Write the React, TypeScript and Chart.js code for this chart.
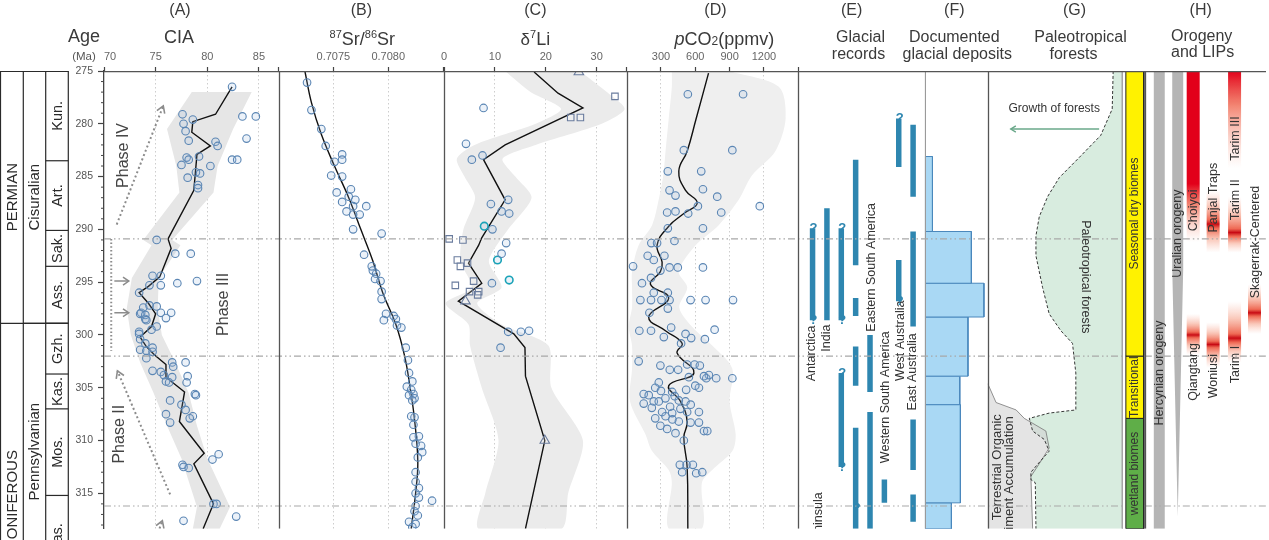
import React, { useEffect, useRef } from "react";
import { Chart, registerables } from "chart.js";

Chart.register(...registerables);

const FONT = "'Liberation Sans', Arial, Helvetica, sans-serif";

/* ---------------- age axis & stratigraphy ---------------- */
const AGE_TOP = 275;
const AGE_BOTTOM = 318.35;
const FIG_BOTTOM = 335.3;
const EVENT_LINES = [290.9, 302.0, 316.2];

const PERIODS: [string, number, number][] = [["PERMIAN", 272.95, 298.9], ["CARBONIFEROUS", 298.9, 358.9]];
const EPOCHS: [string, number, number][] = [["Cisuralian", 272.95, 298.9], ["Pennsylvanian", 298.9, 323.2]];
const STAGES: [string, number, number][] = [
  ["Kun.", 272.95, 283.5], ["Art.", 283.5, 290.1], ["Sak.", 290.1, 293.5], ["Ass.", 293.5, 298.9],
  ["Gzh.", 298.9, 303.7], ["Kas.", 303.7, 307.0], ["Mos.", 307.0, 315.2], ["Bas.", 315.2, 323.2],
];

/* ---------------- (A) CIA : [age, value] ---------------- */
const CIA_POINTS = [
  [276.5, 82.4], [279.1, 77.6], [279.6, 78.6], [279.3, 83.4], [279.3, 84.7], [280.0, 77.7], [280.7, 77.9],
  [281.6, 78.2], [281.4, 83.8], [281.7, 80.8], [282.1, 81.0], [283.2, 78.0], [283.1, 79.2], [283.4, 78.2],
  [283.9, 77.5], [284.0, 80.3], [283.4, 82.4], [283.4, 82.9], [284.6, 78.9], [284.7, 79.3], [285.1, 78.1],
  [285.8, 79.1], [286.1, 79.1], [291.0, 75.1], [292.3, 76.9], [292.3, 78.4], [294.4, 74.7], [294.4, 75.5],
  [295.1, 77.1], [294.9, 79.0], [295.3, 74.4], [295.3, 75.5], [296.0, 73.4], [297.2, 74.4], [297.3, 75.1],
  [297.9, 73.6], [297.9, 75.5], [297.9, 76.5], [298.4, 76.0], [298.5, 74.0], [299.2, 75.1], [299.7, 73.4],
  [297.4, 73.8], [298.0, 73.5], [298.1, 74.0], [298.6, 74.1], [299.5, 74.6], [299.9, 73.4], [300.4, 73.5],
  [300.8, 74.0], [301.2, 74.7], [301.4, 73.5], [301.5, 74.1], [301.6, 74.7], [302.2, 74.1], [302.6, 76.6],
  [302.6, 77.9], [303.0, 76.7], [303.4, 74.7], [303.5, 75.5], [303.8, 75.8], [304.0, 76.6], [303.9, 78.1],
  [304.4, 76.0], [304.5, 76.3], [304.5, 78.0], [305.6, 78.8], [305.7, 78.9], [306.2, 76.4], [306.6, 77.5],
  [307.1, 77.9], [307.5, 76.0], [307.7, 78.6], [307.9, 78.3], [308.3, 76.4], [311.3, 81.1], [311.8, 80.5],
  [312.3, 77.6], [312.5, 77.7], [312.6, 78.2], [316.0, 80.6], [316.0, 80.9], [317.2, 82.8], [317.6, 77.7],
];
const CIA_MEAN = [
  [276.5, 82.4], [279.1, 80.8], [279.8, 78.6], [280.8, 78.5], [282.1, 80.3], [282.9, 79.0], [286.3, 78.7],
  [290.9, 76.2], [291.8, 76.5], [294.5, 75.4], [295.4, 74.3], [296.0, 73.4], [297.0, 74.3], [298.0, 75.0],
  [299.2, 74.6], [300.2, 73.5], [301.1, 74.1], [301.9, 74.9], [302.8, 76.0], [304.0, 76.0], [305.4, 77.8],
  [308.2, 77.3], [311.2, 79.7], [312.2, 78.7], [316.0, 80.6], [318.35, 79.6],
];
const CIA_ENVELOPE = [ // [age, low, high]
  [277.0, 78.5, 84.3], [280.5, 76.1, 82.5], [284.0, 77.0, 81.0], [286.5, 77.3, 80.6], [291.0, 73.8, 76.6],
  [291.5, 74.6, 77.4], [294.6, 72.7, 75.3], [297.5, 72.2, 75.2], [300.0, 72.6, 75.6], [302.6, 73.5, 76.9],
  [305.5, 74.8, 78.2], [308.6, 76.1, 79.0], [311.7, 77.5, 80.0], [316.3, 79.0, 82.2], [318.35, 78.6, 81.2],
];
const CIA_TREND_ARROWS = [[71.23, 289.54, 75.74, 278.3], [76.4, 315.1, 71.3, 303.4], [74.3, 321.2, 75.65, 317.6]];
const CIA_SHORT_ARROWS = [294.9, 297.9];
const CIA_BRACKET = [70.7, 290.9, 301.5];
const PHASE_LABELS: [string, number, number][] = [["Phase IV", 71.85, 283.0], ["Phase III", 81.6, 297.1], ["Phase II", 71.5, 309.4]];

/* ---------------- (B) 87Sr/86Sr ---------------- */
const SR_POINTS = [
  [276.1, 0.70726], [278.7, 0.7073], [280.5, 0.70739], [282.1, 0.70743], [282.9, 0.70758], [283.4, 0.70758],
  [283.6, 0.70751], [284.9, 0.70748], [285.0, 0.70758], [286.2, 0.70766], [286.5, 0.70753], [286.9, 0.70764],
  [287.2, 0.7077], [287.4, 0.70758], [287.8, 0.7078], [287.8, 0.70768], [288.3, 0.70762], [288.6, 0.70774],
  [288.6, 0.70768], [290.0, 0.70768], [290.4, 0.70794], [292.4, 0.70778], [293.5, 0.70785], [293.9, 0.70786],
  [294.2, 0.70789], [294.7, 0.70788], [294.9, 0.70793], [295.9, 0.70794], [296.6, 0.70794], [298.0, 0.70798],
  [298.2, 0.70805], [298.5, 0.70807], [298.6, 0.70796], [299.1, 0.70808], [299.3, 0.70812], [301.2, 0.70816],
  [302.4, 0.70818], [303.6, 0.70819], [304.4, 0.70822], [304.9, 0.70817], [305.2, 0.70821], [305.6, 0.70823],
  [305.7, 0.70819], [306.0, 0.70824], [306.2, 0.70822], [307.7, 0.70821], [307.8, 0.70824], [308.5, 0.70823],
  [309.6, 0.70828], [309.7, 0.70823], [310.3, 0.70825], [310.5, 0.7083], [311.1, 0.70831], [311.6, 0.70827],
  [313.0, 0.70825], [313.9, 0.70825], [314.5, 0.70828], [315.0, 0.70825], [315.4, 0.70828], [315.7, 0.7084],
  [316.2, 0.70825], [316.7, 0.70824], [317.1, 0.70827], [317.7, 0.70819], [317.9, 0.70825], [318.2, 0.70822],
];
const SR_MEAN = [
  [275, 0.70724], [278, 0.7073], [281, 0.70739], [284, 0.70751], [287, 0.70764], [290, 0.70775], [293, 0.70786],
  [296, 0.70795], [299, 0.70807], [302, 0.70815], [305, 0.7082], [308, 0.70824], [312, 0.70827], [315, 0.70825],
  [318.35, 0.70821],
];
const SR_TICK_LABELS = [0.7075, 0.708];

/* ---------------- (C) δ7Li ---------------- */
const LI_CIRCLES = [
  [278.5, 7.75], [281.9, 4.3], [283.4, 5.45], [283.0, 7.55], [287.2, 12.6], [287.6, 9.2], [288.3, 11.3],
  [288.5, 12.8], [290.0, 9.5], [291.3, 12.2], [292.3, 11.3], [295.1, 9.4], [299.7, 12.6], [299.7, 15.1],
  [299.6, 16.7], [301.2, 11.1],
];
const LI_TEAL = [[289.7, 7.9], [292.9, 10.5], [294.8, 12.8]];
const LI_SQUARES = [
  [277.4, 33.6], [279.4, 24.9], [279.4, 26.8], [290.9, 1.0], [291.0, 3.7], [292.9, 2.6], [293.5, 3.2],
  [293.2, 4.6], [295.3, 2.2], [294.9, 5.8], [295.9, 5.0], [295.9, 6.8], [296.2, 6.6],
];
const LI_TRIANGLES = [[275.1, 26.5], [296.8, 4.2], [310.0, 19.8]];
const LI_MEAN = [
  [275.1, 17.7], [277.1, 22.4], [278.5, 27.3], [282.0, 12.0], [283.4, 7.75], [287.2, 12.0], [290.8, 7.4],
  [291.5, 6.8], [293.2, 4.8], [295.1, 7.4], [296.8, 2.8], [299.9, 13.7], [301.2, 15.9], [303.9, 16.0],
  [310.0, 19.8], [318.35, 16.0],
];
const LI_ENVELOPE = [
  [275, 12, 26.7], [277, 17, 32], [278.6, 23, 35.5], [280, 18, 31], [282, 6, 18], [283.3, 2.5, 11.5],
  [285, 4, 14], [287, 6.1, 17.2], [290, 3.8, 12.6], [293, 3.2, 8.8], [295.5, 5.4, 11.3], [297, 0.3, 6.5],
  [299, 4.8, 11.3], [301, 5.1, 20.5], [305, 7.4, 21.1], [310, 10.7, 27.3], [315, 8.1, 24.4], [318.35, 6.8, 23.1],
];

/* ---------------- (D) pCO2 ---------------- */
const CO2_POINTS = [
  [277.2, 535], [277.2, 1018], [282.5, 500], [282.5, 924], [284.5, 360], [284.5, 652], [286.3, 375], [286.8, 427],
  [286.2, 667], [286.9, 792], [287.8, 623], [287.8, 1164], [288.4, 354], [288.3, 427], [288.5, 538], [288.4, 827],
  [289.9, 360], [289.9, 667], [291.1, 418], [291.3, 216], [291.3, 266], [292.5, 184], [292.5, 330], [292.9, 237],
  [293.5, 56], [293.9, 295], [293.6, 375], [293.6, 447], [293.6, 667], [294.6, 213], [295.1, 134], [296.0, 237],
  [296.0, 360], [296.7, 120], [296.7, 213], [296.7, 304], [296.7, 375], [296.7, 559], [296.7, 690], [296.7, 930],
  [297.5, 360], [297.9, 199], [299.6, 111], [299.6, 213], [300.2, 325], [299.3, 389], [299.9, 515], [300.3, 564],
  [300.4, 684], [299.5, 769], [300.8, 476], [302.5, 105], [302.9, 295], [303.3, 377], [302.8, 529], [302.8, 594],
  [303.8, 719], [304.1, 783], [304.1, 924], [304.1, 696], [304.0, 544], [303.9, 676], [304.5, 281], [305.6, 149],
  [305.7, 193], [306.3, 237], [306.5, 149], [306.3, 281], [306.0, 339], [305.4, 398], [306.2, 456], [306.3, 515],
  [305.0, 632], [307.3, 310], [307.4, 398], [307.3, 529], [307.3, 632], [308.6, 295], [308.9, 354], [308.2, 456],
  [308.3, 559], [308.3, 632], [309.1, 676], [309.1, 705], [309.3, 427], [310.0, 500], [312.3, 465], [312.3, 524],
  [312.3, 579], [313.0, 485], [313.1, 608], [313.0, 661], [305.0, 250], [305.3, 300], [305.8, 420], [306.8, 380],
  [307.0, 470], [306.6, 560], [307.9, 250], [308.0, 400], [305.2, 520], [304.8, 600], [306.9, 220], [307.7, 340],
  [303.3, 450], [302.9, 640],
];
const CO2_MEAN = [
  [275.2, 716], [279.5, 608], [282.6, 529], [284.5, 456], [286.3, 515], [287.5, 617], [288.5, 500], [289.7, 368],
  [291.5, 266], [293.1, 310], [294.0, 295], [295.2, 208], [296.5, 368], [298.3, 193], [299.6, 339], [300.8, 485],
  [301.7, 441], [303.6, 588], [304.8, 368], [306.3, 471], [308.2, 529], [309.7, 500], [312.5, 529], [318.35, 535],
];
const CO2_ENVELOPE = [
  [275, 395, 895], [276.5, 395, 1330], [279.5, 368, 1390], [282.6, 340, 1300], [284.9, 320, 1095],
  [287.2, 280, 980], [289.6, 222, 805], [291.5, 105, 603], [294.0, 47, 455], [295.5, 47, 530], [297.4, 47, 460],
  [299.2, 18, 570], [301.0, 47, 748], [303.2, 47, 924], [306.3, 30, 900], [309.4, 164, 953], [311.0, 222, 924],
  [312.8, 368, 748], [314.0, 395, 658], [318.35, 368, 658],
];

/* ---------------- (E) glacial records : [column, start, end] ---------------- */
const GLACIAL_RECORDS = [
  [1, 289.9, 298.6], [2, 288.0, 298.6], [3, 289.9, 298.6], [4, 283.4, 293.4], [4, 296.5, 298.2], [4, 301.1, 304.8],
  [3, 303.6, 312.5], [5, 300.0, 305.4], [5, 307.3, 320], [4, 308.8, 320], [6, 313.7, 315.9], [7, 279.5, 284.1],
  [8, 280.1, 286.9], [7, 292.9, 296.8], [8, 290.2, 299.2], [8, 308.0, 312.8], [8, 315.1, 317.7],
];
const GLACIAL_QUERIES = [[1, 289.9], [1, 298.6], [3, 289.9], [3, 298.6], [3, 303.6], [3, 312.5], [7, 279.5], [7, 296.8], [4, 316.4]];
const GLACIAL_LABELS: [string, number, number, string?][] = [
  ["Antarctica", 0.9, 301.75], ["India", 2.0, 300.3], ["Eastern South America", 5.14, 293.6],
  ["Western South America", 6.1, 305.9], ["West Australia", 7.15, 300.55], ["East Australia", 7.99, 303.5],
  ["Antarctic Peninsula", 1.39, 314.9, "end"],
];

/* ---------------- (F) documented glacial deposits : [start, end, count] ---------------- */
const DEPOSIT_BINS = [
  [283.1, 290.2, 1.9], [290.2, 295.1, 11.65], [295.1, 298.3, 14.8], [298.3, 303.9, 10.8],
  [303.9, 306.6, 8.75], [306.6, 315.9, 8.9], [315.9, 320, 6.65],
];

/* ---------------- (G) paleotropical forests : [age, extent] ---------------- */
const FOREST_EDGE = [
  [275.0, 20.4], [278.6, 21.0], [281.1, 28.3], [283.2, 42], [285.1, 54.6], [286.9, 62], [288.8, 67.3],
  [290.6, 69.4], [292.5, 69.4], [295.5, 65.2], [298.0, 61], [299.6, 53.6], [300.8, 46.2], [303.6, 44.1],
  [307.1, 44.1], [307.4, 61], [307.9, 73.6], [309.1, 71.5], [309.9, 64.1], [311.0, 61], [311.9, 66.3],
  [313.0, 72.6], [313.7, 72.6], [314.0, 69.8], [318.35, 69.4],
];
const SEDIMENT_EDGE = [
  [304.6, 100], [306.4, 94.7], [307.1, 82], [307.9, 76.8], [309.1, 63.1], [310.7, 61], [312.2, 67.3],
  [313.4, 72.6], [318.35, 71.5],
];
const BIOMES: [string, number, number, string][] = [
  ["Seasonal dry biomes", 275, 302.0, "#fff200"], ["Transitional", 302.0, 307.9, "#fff200"], ["wetland biomes", 307.9, 320, "#5fae48"],
];
const GROWTH_ARROW = [29.3, 85.4, 280.5];

/* ---------------- (H) orogeny and LIPs ---------------- */
const OROGENIES: [string, number, number, number | null, number, number][] = [
  ["Hercynian orogeny", 1, 275, null, 320, 303.6], ["Uralian orogeny", 2, 275, 293.7, 317.2, 290.4],
];
const LIPS: [string, number, number, number, number, string, number][] = [
  ["Choiyoi", 3, 275, 285.7, 291.2, "top", 288.2], ["Tarim III", 5, 275, 275, 284.2, "top", 281.4],
  ["Panjal Traps", 4, 286.3, 289.5, 292.2, "blob", 287.0], ["Tarim II", 5, 286.9, 290.3, 292.2, "blob", 287.2],
  ["Skagerrak-Centered", 6, 295.2, 297.9, 299.9, "blob", 291.2], ["Tarim I", 5, 296.8, 300.3, 302.6, "blob", 302.8],
  ["Qiangtang", 3, 298.0, 300.0, 301.9, "blob", 303.5], ["Woniusi", 4, 298.8, 300.9, 303.1, "blob", 303.9],
];

/* ---------------- layout constants (not data) ---------------- */
const LANE_X = [14, 32.5, 48, 68, 89.5, 109.5];
const LANE_HALF = 5.5;
const BIOME_COL = [12.34, 0.95];
const FOREST_RIGHT = 14.6;
const STRAT_X = [0.5, 23.3, 45.7, 68.3];

/* ---------------- helpers ---------------- */
const pts = (rows: number[][]) => rows.map((r) => ({ x: r[1], y: r[0] }));
const bandPts = (rows: number[][]) => [
  ...rows.map((r) => ({ x: r[1], y: r[0] })),
  ...rows.slice().reverse().map((r) => ({ x: r[2], y: r[0] })),
];
const rect = (x0: number, x1: number, a0: number, a1: number, close = true) => {
  const p = [{ x: x0, y: a0 }, { x: x1, y: a0 }, { x: x1, y: a1 }, { x: x0, y: a1 }];
  if (close) p.push({ x: x0, y: a0 });
  return p;
};
function ds(xAxisID: string, data: any[], o: any = {}) {
  return {
    type: "line", xAxisID, yAxisID: "y", indexAxis: "y", data, clip: 0, pointRadius: 0, pointHoverRadius: 0,
    borderWidth: 0, fill: false, tension: 0, ...o,
  };
}
const scatter = (id: string, rows: number[][], o: any = {}) =>
  ds(id, pts(rows), {
    showLine: false, pointRadius: 3.8, pointStyle: "circle", pointBorderColor: "#5b86b4",
    pointBackgroundColor: "rgba(150,185,220,0.18)", pointBorderWidth: 1.1, order: 1, ...o,
  });
const meanLine = (id: string, rows: number[][], tension = 0) =>
  ds(id, pts(rows), { borderColor: "#111", borderWidth: 1.4, tension, order: 5 });
const shape = (id: string, data: any[], color: string, o: any = {}) =>
  ds(id, data, { fill: "shape", backgroundColor: color, order: 20, ...o });

function lipGradient(lip: any[]) {
  return (c: any) => {
    const ch = c.chart;
    const ys = ch.scales && ch.scales.y;
    if (!ch.chartArea || !ys) return "rgba(230,60,40,0.6)";
    const start = lip[2], peak = lip[3], end = lip[4], kind = lip[5];
    const g = ch.ctx.createLinearGradient(0, ys.getPixelForValue(start), 0, ys.getPixelForValue(end));
    const f = (peak - start) / (end - start);
    if (kind === "top") {
      g.addColorStop(0, "rgb(226,0,26)");
      g.addColorStop(f, "rgb(226,0,26)");
      g.addColorStop(f + (1 - f) * 0.35, "rgba(238,90,65,0.75)");
      g.addColorStop(1, "rgba(250,170,150,0)");
    } else {
      g.addColorStop(0, "rgba(250,170,150,0)");
      g.addColorStop(f * 0.45, "rgba(244,140,110,0.45)");
      g.addColorStop(Math.max(0, f - 0.07), "rgba(236,80,55,0.85)");
      g.addColorStop(f, "rgb(200,10,20)");
      g.addColorStop(Math.min(1, f + 0.07), "rgba(236,80,55,0.85)");
      g.addColorStop(f + (1 - f) * 0.55, "rgba(244,140,110,0.45)");
      g.addColorStop(1, "rgba(250,170,150,0)");
    }
    return g;
  };
}

function seg(ctx: any, x0: number, y0: number, x1: number, y1: number) {
  ctx.beginPath(); ctx.moveTo(x0, y0); ctx.lineTo(x1, y1); ctx.stroke();
}
function txt(ctx: any, t: string, x: number, y: number, size: number, color: string, rot = 0, align = "center", weight = "normal") {
  ctx.save();
  ctx.translate(x, y);
  if (rot) ctx.rotate((rot * Math.PI) / 180);
  ctx.font = `${weight} ${size}px ${FONT}`;
  ctx.fillStyle = color;
  ctx.textAlign = align;
  ctx.textBaseline = "middle";
  ctx.fillText(t, 0, 0);
  ctx.restore();
}
function rich(ctx: any, runs: any[], cx: number, base: number, color: string) {
  const fnt = (r: any) => `${r[3] ? "italic " : ""}${r[1]}px ${FONT}`;
  let w = 0;
  for (const r of runs) { ctx.font = fnt(r); w += ctx.measureText(r[0]).width; }
  let x = cx - w / 2;
  ctx.save();
  ctx.fillStyle = color; ctx.textAlign = "left"; ctx.textBaseline = "alphabetic";
  for (const r of runs) { ctx.font = fnt(r); ctx.fillText(r[0], x, base + r[2]); x += ctx.measureText(r[0]).width; }
  ctx.restore();
}
function head(ctx: any, x0: number, y0: number, x1: number, y1: number, len = 8, ang = 0.5) {
  const a = Math.atan2(y1 - y0, x1 - x0);
  ctx.beginPath();
  ctx.moveTo(x1 - len * Math.cos(a - ang), y1 - len * Math.sin(a - ang));
  ctx.lineTo(x1, y1);
  ctx.lineTo(x1 - len * Math.cos(a + ang), y1 - len * Math.sin(a + ang));
  ctx.stroke();
}

/* ---------------- custom drawing plugin ---------------- */
const decor = {
  id: "decor",
  afterDatasetsDraw(chart: any) {
    const { ctx, chartArea: ca, scales: s } = chart;
    const Y = (a: number) => s.y.getPixelForValue(a);
    const X = (id: string, v: number) => s[id].getPixelForValue(v);
    ctx.save();
    ctx.beginPath(); ctx.rect(ca.left, ca.top, ca.right - ca.left, ca.bottom - ca.top); ctx.clip();

    // event (dash-dot-dot) lines
    const bl = X("xG", BIOME_COL[0]), br = X("xG", BIOME_COL[1]);
    ctx.strokeStyle = "#a8a8a8"; ctx.lineWidth = 1.2; ctx.setLineDash([7, 3, 1.5, 3, 1.5, 3]);
    for (const a of EVENT_LINES) { const y = Y(a); seg(ctx, ca.left, y, bl - 1, y); seg(ctx, br + 1, y, ca.right, y); }
    ctx.setLineDash([]);

    // panel borders & top frame
    ctx.strokeStyle = "#555"; ctx.lineWidth = 1.3;
    for (const id of ["xB", "xC", "xD", "xE", "xG", "xH"]) { const x = Math.round(s[id].left) + 0.5; seg(ctx, x, ca.top, x, ca.bottom); }
    seg(ctx, ca.left, ca.top + 0.5, ca.right, ca.top + 0.5);

    // (A) annotations
    ctx.strokeStyle = "#8c8c8c"; ctx.lineWidth = 2;
    for (const [c0, a0, c1, a1] of CIA_TREND_ARROWS) {
      const x0 = X("xA", c0), y0 = Y(a0), x1 = X("xA", c1), y1 = Y(a1);
      ctx.setLineDash([2, 2.6]); seg(ctx, x0, y0, x1, y1); ctx.setLineDash([]);
      ctx.lineWidth = 1.6; head(ctx, x0, y0, x1, y1, 8, 0.55); ctx.lineWidth = 2;
    }
    ctx.lineWidth = 1.5;
    for (const a of CIA_SHORT_ARROWS) {
      const y = Y(a), x0 = X("xA", 71.0), x1 = X("xA", 72.4);
      seg(ctx, x0, y, x1, y); head(ctx, x0, y, x1, y, 7, 0.6);
    }
    ctx.lineWidth = 2; ctx.setLineDash([1.5, 2.2]);
    seg(ctx, X("xA", CIA_BRACKET[0]), Y(CIA_BRACKET[1]), X("xA", CIA_BRACKET[0]), Y(CIA_BRACKET[2]));
    ctx.setLineDash([]);
    for (const [t, c, a] of PHASE_LABELS) txt(ctx, t, X("xA", c), Y(a), 16, "#444", -90);

    // (E) labels and query marks
    for (const [t, c, a, al] of GLACIAL_LABELS) txt(ctx, t, X("xE", c), Y(a), 12.5, "#333", -90, al === "end" ? "right" : "center");
    for (const [c, a] of GLACIAL_QUERIES) txt(ctx, "?", X("xE", c) + 1, Y(a), 13, "#2e86b0", 0, "center", "bold");

    // (G) labels
    txt(ctx, "Growth of forests", X("xG", 57.8), Y(278.6), 12, "#333");
    ctx.strokeStyle = "#6aa88a"; ctx.lineWidth = 1.4;
    const gx0 = X("xG", GROWTH_ARROW[0]), gx1 = X("xG", GROWTH_ARROW[1]), gy = Y(GROWTH_ARROW[2]);
    seg(ctx, gx0, gy, gx1, gy); head(ctx, gx0, gy, gx1, gy, 6, 0.55);
    txt(ctx, "Paleotropical forests", X("xG", 38), Y(294.5), 12.5, "#333", 90);
    txt(ctx, "Terrestrial Organic", X("xG", 93.7), Y(307.5), 13, "#333", -90, "right");
    txt(ctx, "Sediment Accumulation", X("xG", 86.3), Y(307.7), 13, "#333", -90, "right");
    for (const [t, a0, a1] of BIOMES) {
      txt(ctx, t, X("xG", (BIOME_COL[0] + BIOME_COL[1]) / 2), Y((a0 + Math.min(a1, AGE_BOTTOM)) / 2), 12, "#333", -90);
    }

    // (H) labels
    for (const o of OROGENIES) txt(ctx, o[0], X("xH", LANE_X[o[1] - 1]), Y(o[5]), 12.5, "#333", -90);
    for (const l of LIPS) txt(ctx, l[0], X("xH", LANE_X[l[1] - 1] + 0.6), Y(l[6]), 12.5, "#333", -90);

    ctx.restore();
  },
  afterDraw(chart: any) {
    const { ctx, chartArea: ca, scales: s } = chart;
    const Y = (a: number) => s.y.getPixelForValue(a);
    const top = ca.top, bottom = chart.height;
    ctx.save();

    // minor age ticks
    ctx.strokeStyle = "#444"; ctx.lineWidth = 1;
    for (let a = AGE_TOP + 1; a < AGE_BOTTOM; a++) if (a % 5) seg(ctx, ca.left - 3, Y(a), ca.left, Y(a));

    // stratigraphic column
    ctx.strokeStyle = "#2a2a2a"; ctx.lineWidth = 1.2;
    seg(ctx, STRAT_X[0], top + 0.5, STRAT_X[3], top + 0.5);
    for (const x of STRAT_X) seg(ctx, x, top, x, bottom);
    const bnd = (list: any[], from: number) => list.forEach((r) => { if (r[1] > AGE_TOP) seg(ctx, STRAT_X[from], Y(r[1]), STRAT_X[3], Y(r[1])); });
    bnd(PERIODS, 0); bnd(EPOCHS, 1); bnd(STAGES, 2);
    const mid = (a0: number, a1: number) => Y((Math.max(a0, AGE_TOP) + Math.min(a1, FIG_BOTTOM)) / 2);
    for (const [n, a0, a1] of PERIODS) txt(ctx, n, (STRAT_X[0] + STRAT_X[1]) / 2 + 0.5, mid(a0, a1), 15, "#2a2a2a", -90);
    for (const [n, a0, a1] of EPOCHS) txt(ctx, n, (STRAT_X[1] + STRAT_X[2]) / 2 + 0.5, mid(a0, a1), 15, "#2a2a2a", -90);
    for (const [n, a0, a1] of STAGES) txt(ctx, n, (STRAT_X[2] + STRAT_X[3]) / 2 + 0.5, mid(a0, a1), 14.5, "#2a2a2a", -90);

    // first CIA tick label, nudged right of its tick (as in the source figure)
    txt(ctx, "70", s.xA.getPixelForValue(70) + 6, 56.5, 11, "#666");

    // headers
    const hc = "#3a3a3a";
    const cen = (id: string) => (s[id].left + s[id].right) / 2;
    txt(ctx, "Age", 84, 37, 18, hc);
    txt(ctx, "(Ma)", 84, 56.5, 11.5, "#555");
    txt(ctx, "(A)", s.xA.left + 76, 11, 16, hc);
    txt(ctx, "CIA", s.xA.left + 75, 38, 18, hc);
    txt(ctx, "(B)", cen("xB"), 11, 16, hc);
    rich(ctx, [["87", 11, -7], ["Sr/", 18, 0], ["86", 11, -7], ["Sr", 18, 0]], cen("xB") + 1, 45, hc);
    txt(ctx, "(C)", cen("xC"), 11, 16, hc);
    rich(ctx, [["δ", 17, 0], ["7", 11, -7], ["Li", 18, 0]], cen("xC"), 45, hc);
    txt(ctx, "(D)", cen("xD") + 3, 11, 16, hc);
    rich(ctx, [["p", 18, 0, true], ["CO", 18, 0], ["2", 12, 0], ["(ppmv)", 18, 0]], cen("xD") + 12, 45, hc);
    txt(ctx, "(E)", cen("xE") - 10, 11, 16, hc);
    txt(ctx, "Glacial", cen("xE") - 1, 38, 16, hc);
    txt(ctx, "records", cen("xE") - 3, 55, 16, hc);
    txt(ctx, "(F)", cen("xF") - 2, 11, 16, hc);
    txt(ctx, "Documented", cen("xF") - 2, 38, 16, hc);
    txt(ctx, "glacial deposits", cen("xF") + 1, 55, 16, hc);
    txt(ctx, "(G)", cen("xG") + 8, 11, 16, hc);
    txt(ctx, "Paleotropical", cen("xG") + 14, 38, 16, hc);
    txt(ctx, "forests", cen("xG") + 7, 55, 16, hc);
    txt(ctx, "(H)", cen("xH") - 5, 11, 16, hc);
    txt(ctx, "Orogeny", cen("xH") - 4, 37, 16, hc);
    txt(ctx, "and LIPs", cen("xH") - 3, 53, 16, hc);
    ctx.restore();
  },
};

/* ---------------- config ---------------- */
function buildConfig(): any {
  const datasets: any[] = [];
  // A
  datasets.push(shape("xA", bandPts(CIA_ENVELOPE), "#e6e6e6"));
  datasets.push(meanLine("xA", CIA_MEAN));
  datasets.push(scatter("xA", CIA_POINTS));
  // B
  datasets.push(meanLine("xB", SR_MEAN, 0.4));
  datasets.push(scatter("xB", SR_POINTS));
  // C
  datasets.push(shape("xC", bandPts(LI_ENVELOPE), "#ebebeb", { tension: 0.25 }));
  datasets.push(meanLine("xC", LI_MEAN));
  datasets.push(scatter("xC", LI_CIRCLES));
  datasets.push(scatter("xC", LI_TEAL, { pointBorderColor: "#1aa3b8", pointBorderWidth: 1.6 }));
  datasets.push(scatter("xC", LI_SQUARES, { pointStyle: "rect", pointRadius: 4.6, pointBorderColor: "#6a7c9e", pointBackgroundColor: "rgba(255,255,255,0.2)" }));
  datasets.push(scatter("xC", LI_TRIANGLES, { pointStyle: "triangle", pointRadius: 5.5, pointBorderColor: "#6a7c9e", pointBackgroundColor: "rgba(255,255,255,0.2)" }));
  // D
  datasets.push(shape("xD", bandPts(CO2_ENVELOPE), "#efefef", { tension: 0.3 }));
  datasets.push(meanLine("xD", CO2_MEAN, 0.45));
  datasets.push(scatter("xD", CO2_POINTS));
  // E
  for (const [c, a0, a1] of GLACIAL_RECORDS) {
    datasets.push(ds("xE", [{ x: c, y: a0 }, { x: c, y: Math.min(a1, AGE_BOTTOM) }], { borderColor: "#2e86b0", borderWidth: 5.5, order: 3 }));
  }
  // F
  for (const [a0, a1, v] of DEPOSIT_BINS) {
    datasets.push(shape("xF", rect(0, v, a0, Math.min(a1, AGE_BOTTOM), false), "#a9d8f4", { borderColor: "#4a88bd", borderWidth: 1, order: 4 }));
  }
  datasets.push(ds("xF", [{ x: 0, y: AGE_TOP }, { x: 0, y: AGE_BOTTOM }], { borderColor: "#9a9a9a", borderWidth: 2.2, order: 2 }));
  // G
  datasets.push(shape("xG", [...pts(FOREST_EDGE), { x: FOREST_RIGHT, y: AGE_BOTTOM }, { x: FOREST_RIGHT, y: AGE_TOP }], "#d8ecdf", { order: 22 }));
  datasets.push(shape("xG", [...pts(SEDIMENT_EDGE), { x: 100, y: AGE_BOTTOM }], "rgba(210,210,210,0.6)", { order: 21 }));
  datasets.push(ds("xG", pts(FOREST_EDGE), { borderColor: "#222", borderWidth: 0.9, borderDash: [3, 2], order: 6 }));
  datasets.push(ds("xG", pts(SEDIMENT_EDGE), { borderColor: "#777", borderWidth: 0.8, order: 6 }));
  datasets.push(ds("xG", [{ x: FOREST_RIGHT, y: AGE_TOP }, { x: FOREST_RIGHT, y: AGE_BOTTOM }], { borderColor: "#a5a5a5", borderWidth: 1, order: 6 }));
  for (const [, a0, a1, col] of BIOMES) {
    datasets.push(shape("xG", rect(BIOME_COL[0], BIOME_COL[1], a0, Math.min(a1, AGE_BOTTOM)), col, { borderColor: "#222", borderWidth: 1, order: 4 }));
  }
  // H
  for (const o of OROGENIES) {
    const x = LANE_X[o[1] - 1];
    const poly = o[3] === null
      ? rect(x - LANE_HALF, x + LANE_HALF, o[2], Math.min(o[4], AGE_BOTTOM), false)
      : [{ x: x - LANE_HALF, y: o[2] }, { x: x + LANE_HALF, y: o[2] }, { x: x + LANE_HALF, y: o[3] }, { x, y: o[4] }, { x: x - LANE_HALF, y: o[3] }];
    datasets.push(shape("xH", poly, "#b5b5b5", { order: 8 }));
  }
  for (const l of LIPS) {
    const x = LANE_X[l[1] - 1];
    datasets.push(ds("xH", [{ x, y: l[2] }, { x, y: l[4] }], { borderColor: lipGradient(l), borderWidth: 13, order: 7 }));
  }

  const tickFont = { family: FONT, size: 11 };
  // panels are stacked along the top edge; higher layout weight = placed further left
  const xAxis = (slot: number, width: number, min: number, max: number, extra: any = {}) => ({
    type: "linear", position: "top", stack: "panels", stackWeight: width, weight: 10 - slot, min, max,
    afterFit: (sc: any) => { sc.height = 71; },
    border: { display: false, dash: [1.5, 2.5] },
    ticks: { display: false },
    grid: { display: false },
    ...extra,
  });
  const dataAxis = (step: number, edges: number[], cb?: (v: number) => string) => ({
    ticks: {
      display: true, stepSize: step, includeBounds: false, color: "#666", font: tickFont, padding: 3,
      maxRotation: 0, autoSkip: false, callback: cb || ((v: number) => String(v)),
    },
    grid: {
      display: true, lineWidth: 1, tickLength: 4, tickColor: "#444", tickWidth: 1.2,
      color: (c: any) => (c.tick && edges.some((e) => Math.abs(c.tick.value - e) < step * 0.2) ? "rgba(0,0,0,0)" : "#cdcdcd"),
    },
  });

  return {
    type: "line",
    data: { datasets },
    options: {
      responsive: false,
      animation: false,
      events: [],
      indexAxis: "y",
      layout: { padding: { left: 70, right: 0, top: 0, bottom: 0 }, autoPadding: false },
      plugins: { legend: { display: false }, tooltip: { enabled: false } },
      scales: {
        y: {
          type: "linear", position: "left", reverse: true, min: AGE_TOP, max: AGE_BOTTOM,
          afterFit: (sc: any) => { sc.width = 34; },
          ticks: { stepSize: 5, includeBounds: false, color: "#555", font: { family: FONT, size: 10.5 }, padding: 5, autoSkip: false },
          grid: { drawOnChartArea: false, tickLength: 6, tickColor: "#444", tickWidth: 1.2 },
          border: { color: "#444", width: 1.3 },
        },
        xA: xAxis(1, 175, 70, 86.9, dataAxis(5, [70], (v: number) => (v > 70 ? String(v) : ""))),
        xB: xAxis(2, 166, 0.707, 0.70851, dataAxis(0.0005, [0.707, 0.7085], (v: number) =>
          SR_TICK_LABELS.some((t) => Math.abs(t - v) < 1e-7) ? v.toFixed(4) : "")),
        xC: xAxis(3, 183, 0, 35.9, dataAxis(10, [0])),
        xD: xAxis(4, 172, 0, 1500, dataAxis(300, [0, 1500], (v: number) => (v > 0 && v < 1500 ? String(v) : ""))),
        xE: xAxis(5, 127, 0, 8.82),
        xF: xAxis(6, 63, 0, 15.75),
        xG: xAxis(7, 158, 0, 100, { reverse: true }),
        xH: xAxis(8, 121, 0, 121),
      },
    },
    plugins: [decor],
  };
}

export default function App() {
  const ref = useRef<HTMLCanvasElement | null>(null);
  useEffect(() => {
    const chart = new Chart(ref.current as HTMLCanvasElement, buildConfig());
    return () => chart.destroy();
  }, []);
  return (
    <div style={{ position: "fixed", left: 0, top: 0, width: 1269, height: 540, background: "#fff" }}>
      <canvas ref={ref} width={1269} height={540} style={{ display: "block", width: 1269, height: 540 }} />
    </div>
  );
}
